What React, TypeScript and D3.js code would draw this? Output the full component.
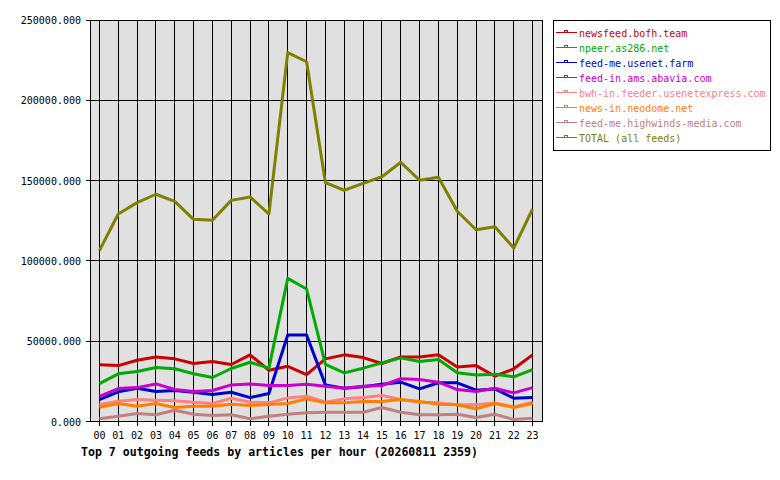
import React from 'react';
import * as d3 from 'd3';

const W = 780;
const H = 480;
const plot = { left: 90, right: 542, top: 20, bottom: 421.5 };

const hours = ['00', '01', '02', '03', '04', '05', '06', '07', '08', '09', '10', '11',
  '12', '13', '14', '15', '16', '17', '18', '19', '20', '21', '22', '23'];

const yTicks = [0, 50000, 100000, 150000, 200000, 250000];

const newsfeedBofh = [35300, 34800, 38100, 40200, 39000, 36100, 37300, 35500, 41500, 31900, 34400, 29200,
  39000, 41500, 39800, 36100, 40200, 40200, 41500, 34000, 34800, 28200, 32800, 41500];
const npeerAs286 = [23600, 29700, 31100, 33600, 32800, 29700, 27400, 33000, 36900, 33200, 89100, 82500,
  35600, 30300, 33200, 36500, 39600, 37300, 38600, 30300, 29000, 29400, 27800, 32300];
const feedMeUsenet = [13700, 18500, 20700, 18700, 19300, 18200, 16800, 18200, 14900, 17400, 53900, 53900,
  22800, 20700, 21600, 23200, 24500, 20300, 24100, 24100, 19500, 20300, 14500, 14900];
const feedInAbavia = [15700, 20500, 21100, 23400, 19900, 18700, 19300, 22800, 23400, 22400, 22400, 23200,
  22000, 20700, 22000, 22400, 26600, 26100, 24500, 19900, 18700, 20700, 17800, 21100];
const bwhInFeeder = [10600, 12600, 13700, 13200, 12900, 12000, 11200, 14500, 12000, 11600, 14700, 15700,
  12000, 14100, 14900, 16200, 13700, 12000, 11600, 10400, 10400, 11600, 9100, 12000];
const newsInNeodome = [8900, 11200, 9500, 11200, 8700, 9500, 9500, 10800, 10000, 10600, 11200, 14100,
  11600, 11600, 12400, 12400, 13700, 12400, 10800, 10400, 7900, 11200, 8700, 11200];
const feedMeHighwinds = [1700, 3300, 5000, 4200, 7000, 4500, 3700, 4200, 1700, 3300, 4500, 5400,
  5800, 5800, 5800, 8700, 5800, 4200, 4200, 4500, 2500, 4500, 1200, 2100];
const totalAll = [106400, 129200, 136300, 141500, 137100, 125900, 125300, 137700, 139800, 129200, 229700, 224000,
  148700, 144000, 148300, 152400, 161400, 150200, 152100, 130900, 119400, 121300, 108000, 132300];

const series = [
  { name: 'newsfeed.bofh.team', color: '#cc0000', values: newsfeedBofh },
  { name: 'npeer.as286.net', color: '#00aa00', values: npeerAs286 },
  { name: 'feed-me.usenet.farm', color: '#0000cc', values: feedMeUsenet },
  { name: 'feed-in.ams.abavia.com', color: '#cc00cc', values: feedInAbavia },
  { name: 'bwh-in.feeder.usenetexpress.com', color: '#ff8080', values: bwhInFeeder },
  { name: 'news-in.neodome.net', color: '#ff8000', values: newsInNeodome },
  { name: 'feed-me.highwinds-media.com', color: '#c08080', values: feedMeHighwinds },
  { name: 'TOTAL (all feeds)', color: '#808000', values: totalAll },
];

const mono = '"DejaVu Sans Mono", "Liberation Mono", monospace';

export default function App() {
  const x = d3.scaleBand<string>().domain(hours).range([plot.left, plot.right]);
  const cx = (h: string) => (x(h) ?? 0) + x.bandwidth() / 2;
  const y = d3.scaleLinear().domain([0, 250000]).range([plot.bottom, plot.top]);
  const fmt = d3.format('.3f');

  const line = d3
    .line<number>()
    .x((_, i) => cx(hours[i]))
    .y((d) => y(d));

  return (
    <svg
      width={W}
      height={H}
      style={{ position: 'absolute', left: 0, top: 0, background: '#fff' }}
      fontFamily={mono}
    >
      <rect x={0} y={0} width={W} height={H} fill="#fff" />
      {/* plot background */}
      <rect
        x={plot.left}
        y={plot.top}
        width={plot.right - plot.left}
        height={plot.bottom - plot.top}
        fill="#e0e0e0"
      />
      {/* grid, ticks and labels */}
      <g shapeRendering="crispEdges">
        {yTicks.map((t) => (
          <g key={t}>
            <line x1={plot.left - 4} x2={plot.right} y1={y(t)} y2={y(t)} stroke="#000" />
            <text x={81} y={y(t) + 4} textAnchor="end" fontSize={10} fill="#000">
              {fmt(t)}
            </text>
          </g>
        ))}
        {hours.map((h) => (
          <g key={h}>
            <line x1={cx(h)} x2={cx(h)} y1={plot.top} y2={plot.bottom + 4} stroke="#000" />
            <text x={cx(h)} y={439} textAnchor="middle" fontSize={10} fill="#000">
              {h}
            </text>
          </g>
        ))}
        <rect
          x={plot.left}
          y={plot.top}
          width={plot.right - plot.left}
          height={plot.bottom - plot.top}
          fill="none"
          stroke="#000"
        />
      </g>
      {/* series */}
      {series.map((s) => (
        <path
          key={s.name}
          d={line(s.values) ?? ''}
          fill="none"
          stroke={s.color}
          strokeWidth={3}
          strokeLinejoin="round"
        />
      ))}
      {/* title */}
      <text
        x={81}
        y={456}
        fontSize={11.6}
        fontWeight="bold"
        fill="#000"
        textLength={397}
        lengthAdjust="spacingAndGlyphs"
      >
        Top 7 outgoing feeds by articles per hour (20260811 2359)
      </text>
      {/* legend */}
      <rect x={553.5} y={20.5} width={217} height={130} fill="#fff" stroke="#000" shapeRendering="crispEdges" />
      {series.map((s, i) => {
        const ly = 32 + i * 15;
        return (
          <g key={s.name} shapeRendering="crispEdges">
            <line x1={556} x2={577} y1={ly} y2={ly} stroke={s.color} />
            <rect x={564} y={ly - 2} width={3} height={2} fill="none" stroke={s.color} strokeWidth={1} />
            <text x={579} y={ly + 4.5} fontSize={10} fill={s.color}>
              {s.name}
            </text>
          </g>
        );
      })}
    </svg>
  );
}
